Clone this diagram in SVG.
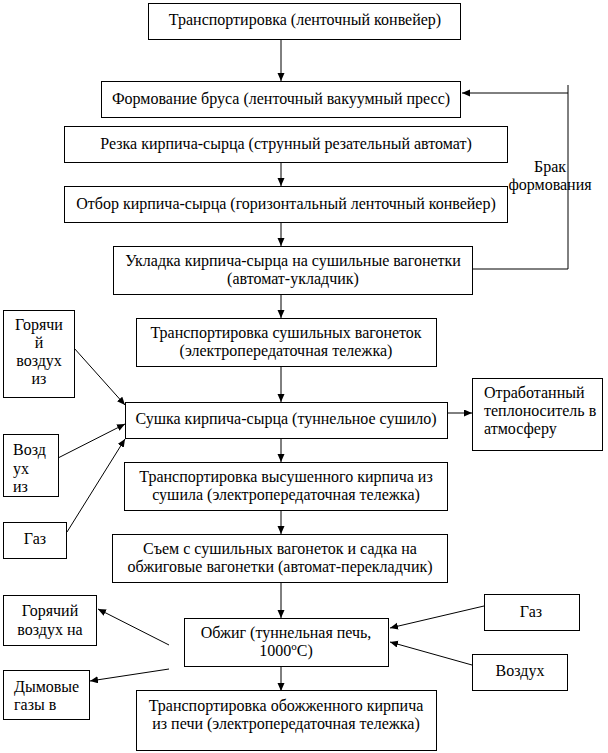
<svg xmlns="http://www.w3.org/2000/svg" width="608" height="753" viewBox="0 0 608 753">
<defs>
<marker id="ah" markerWidth="9" markerHeight="8" refX="8" refY="3.5" orient="auto" markerUnits="userSpaceOnUse">
<path d="M0,0 L8,3.5 L0,7 z" fill="#000"/>
</marker>
<style>
rect{fill:#fff;stroke:#000;stroke-width:1}
text{font-family:"Liberation Serif","Times New Roman",serif;font-size:16px;fill:#000}
.c{text-anchor:middle}
.l{text-anchor:start}
#connectors line,#connectors polyline{stroke:#000;stroke-width:1;fill:none}
.a{marker-end:url(#ah)}
</style>
</defs>
<rect x="0" y="0" width="608" height="753" style="fill:#fff;stroke:none"/>
<g id="connectors">
<line class="a" x1="281" y1="39" x2="281" y2="81"/>
<line class="a" x1="281" y1="162" x2="281" y2="186"/>
<line class="a" x1="281" y1="222" x2="281" y2="246"/>
<line class="a" x1="281" y1="294" x2="281" y2="318"/>
<line class="a" x1="281" y1="366" x2="281" y2="402"/>
<line class="a" x1="281" y1="438" x2="281" y2="462"/>
<line class="a" x1="281" y1="510" x2="281" y2="534"/>
<line class="a" x1="281" y1="582" x2="281" y2="618"/>
<line class="a" x1="281" y1="666" x2="281" y2="691"/>
<polyline points="473,269 568,269 568,85"/>
<line class="a" x1="568" y1="93" x2="462" y2="93"/>
<line class="a" x1="448" y1="413" x2="472" y2="413"/>
<line class="a" x1="74" y1="348" x2="125" y2="405"/>
<line class="a" x1="58" y1="458" x2="125" y2="424"/>
<line class="a" x1="67" y1="532" x2="125" y2="439"/>
<line class="a" x1="484" y1="606" x2="390" y2="628"/>
<line class="a" x1="472" y1="665" x2="390" y2="642"/>
<line class="a" x1="169" y1="645" x2="98" y2="609"/>
<line class="a" x1="169" y1="669" x2="90" y2="681"/>
</g>
<g id="n1"><rect x="148.5" y="3.5" width="312" height="36"/><text class="c" x="305" y="25">Транспортировка (ленточный конвейер)</text></g>
<g id="n2"><rect x="101.5" y="81.5" width="359" height="36"/><text class="c" x="281" y="104">Формование бруса (ленточный вакуумный пресс)</text></g>
<g id="n3"><rect x="64.5" y="126.5" width="443" height="36"/><text class="c" x="286" y="149">Резка кирпича-сырца (струнный резательный автомат)</text></g>
<g id="n4"><rect x="64.5" y="186.5" width="443" height="36"/><text class="c" x="286" y="209">Отбор кирпича-сырца (горизонтальный ленточный конвейер)</text></g>
<g id="n5"><rect x="113.5" y="246.5" width="359" height="48"/><text class="c" x="293" y="266">Укладка кирпича-сырца на сушильные вагонетки</text><text class="c" x="293" y="284">(автомат-укладчик)</text></g>
<g id="lbl-brak"><text class="c" x="550" y="172">Брак</text><text class="c" x="550" y="190">формования</text></g>
<g id="n6"><rect x="136.5" y="318.5" width="300" height="48"/><text class="c" x="286" y="338">Транспортировка сушильных вагонеток</text><text class="c" x="286" y="356">(электропередаточная тележка)</text></g>
<g id="n7"><rect x="125.5" y="402.5" width="322" height="36"/><text class="c" x="286" y="424">Сушка кирпича-сырца (туннельное сушило)</text></g>
<g id="n-otrab"><rect x="472.5" y="378.5" width="130" height="72"/><text class="l" x="484" y="398">Отработанный</text><text class="l" x="484" y="416">теплоноситель в</text><text class="l" x="484" y="434">атмосферу</text></g>
<g id="n-gor1"><rect x="3.5" y="310.5" width="71" height="87"/><text class="c" x="39" y="330">Горячи</text><text class="c" x="39" y="348">й</text><text class="c" x="39" y="366">воздух</text><text class="c" x="39" y="384">из</text></g>
<g id="n-vozd1"><rect x="3.5" y="434.5" width="55" height="62"/><text class="l" x="13" y="455">Возд</text><text class="l" x="13" y="474">ух</text><text class="l" x="13" y="492">из</text></g>
<g id="n-gaz1"><rect x="3.5" y="522.5" width="63" height="36"/><text class="c" x="35" y="544">Газ</text></g>
<g id="n8"><rect x="124.5" y="462.5" width="323" height="48"/><text class="c" x="286" y="482">Транспортировка высушенного кирпича из</text><text class="c" x="286" y="500">сушила (электропередаточная тележка)</text></g>
<g id="n9"><rect x="112.5" y="534.5" width="335" height="48"/><text class="c" x="280" y="554">Съем с сушильных вагонеток и садка на</text><text class="c" x="280" y="572">обжиговые вагонетки (автомат-перекладчик)</text></g>
<g id="n10"><rect x="184.5" y="618.5" width="204" height="48"/><text class="c" x="286" y="638">Обжиг (туннельная печь,</text><text class="c" x="286" y="656">1000<tspan font-size="11" dy="-6">o</tspan><tspan dy="6">С)</tspan></text></g>
<g id="n-gaz2"><rect x="484.5" y="594.5" width="95" height="36"/><text class="c" x="531" y="617">Газ</text></g>
<g id="n-vozd2"><rect x="472.5" y="654.5" width="95" height="36"/><text class="c" x="520" y="676">Воздух</text></g>
<g id="n-gor2"><rect x="3.5" y="595.5" width="93" height="50"/><text class="c" x="50" y="616">Горячий</text><text class="c" x="50" y="635">воздух на</text></g>
<g id="n-dym"><rect x="3.5" y="670.5" width="86" height="49"/><text class="l" x="14" y="692">Дымовые</text><text class="l" x="14" y="710">газы в</text></g>
<g id="n11"><rect x="136.5" y="690.5" width="300" height="60"/><text class="c" x="286" y="711">Транспортировка обожженного кирпича</text><text class="c" x="286" y="729">из печи (электропередаточная тележка)</text></g>
</svg>
